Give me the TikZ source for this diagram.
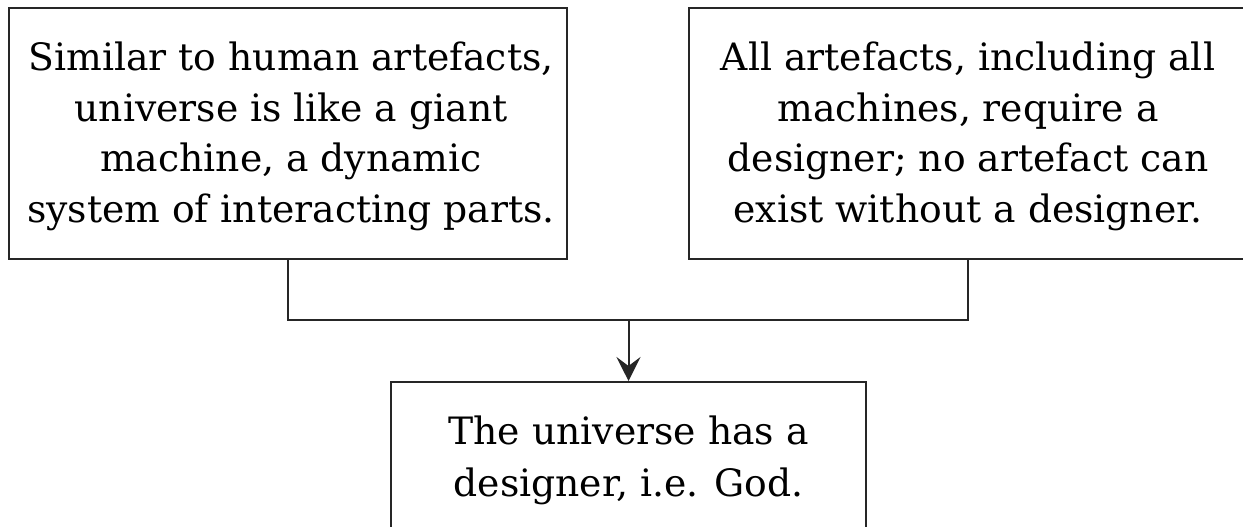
\documentclass[tikz,border=0pt]{standalone}
\usepackage{fontspec}
\setmainfont{DejaVu Serif}
\usetikzlibrary{arrows.meta}
\begin{document}
\begin{tikzpicture}[x=1pt,y=1pt,
  box/.style={draw=black!85, line width=2pt, inner sep=0pt},
  txt/.style={inner sep=0pt, align=center,
    font=\fontsize{37.7}{50.5}\selectfont, text=black},
  conn/.style={draw=black!85, line width=2pt},
  arr/.style={conn, -{Stealth[length=24pt,width=24pt,inset=9pt]}}]
\useasboundingbox (0,0) rectangle (1243,527);
\clip (0,0) rectangle (1243,527);
\node[box, minimum width=558pt, minimum height=251pt] (L) at (288,393.5) {};
\node[txt] (Lt) at ([xshift=3pt,yshift=-3pt]L.center)
  {Similar to human artefacts,\\universe is like a giant\\machine, a dynamic\\system of interacting parts.};
\node[box, minimum width=558pt, minimum height=251pt] (R) at (968,393.5) {};
\node[txt] (Rt) at ([yshift=-3pt]R.center)
  {All artefacts, including all\\machines, require a\\designer; no artefact can\\exist without a designer.};
\node[box, minimum width=475pt, minimum height=216pt] (B) at (628.5,37) {};
\node[txt, font=\fontsize{37.7}{52}\selectfont] (Bt) at ([yshift=30pt]B.center)
  {The universe has a\\designer, i.e. God.};
\coordinate (J) at (628.5,207);
\draw[conn] (L.south) |- (J) -| (R.south);
\draw[arr] (J) -- (B.north);
\end{tikzpicture}
\end{document}
